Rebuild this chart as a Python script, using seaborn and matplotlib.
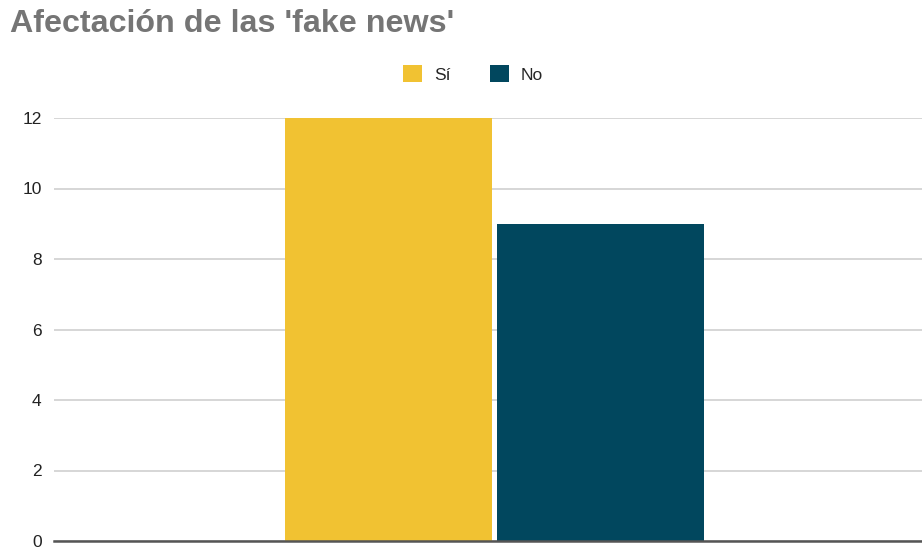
import matplotlib
matplotlib.use("Agg")
import matplotlib.pyplot as plt
import seaborn as sns
import pandas as pd

# Data
categories = [""]
series = ["Sí", "No"]
values = [12, 9]
colors = ["#F1C232", "#01475E"]
yticks = [0, 2, 4, 6, 8, 10, 12]

df = pd.DataFrame({
    "cat": categories * len(series),
    "serie": series,
    "valor": values,
})

sns.set_theme(style="white")
plt.rcParams["font.family"] = ["Liberation Sans", "DejaVu Sans"]

fig = plt.figure(figsize=(9.22, 5.47), dpi=100)
ax = fig.add_axes([54 / 922, 1 - 541 / 547, 1 - 54 / 922, (541 - 118) / 547])

sns.barplot(data=df, x="cat", y="valor", hue="serie", hue_order=series,
            palette=colors, width=0.481, gap=0.025, saturation=1,
            linewidth=0, ax=ax)

ax.set_xlim(-0.5, 0.485)
ax.set_ylim(0, 12)
ax.set_yticks(yticks)
ax.set_yticklabels([str(t) for t in yticks], fontsize=12.5, color="#222222")
ax.tick_params(axis="y", length=0, pad=9)
ax.tick_params(axis="x", length=0)
ax.set_xticklabels([])
ax.set_xlabel("")
ax.set_ylabel("")

ax.yaxis.grid(True, color="#cccccc", linewidth=1.1)
ax.set_axisbelow(True)
for side in ["top", "right", "left"]:
    ax.spines[side].set_visible(False)
ax.spines["bottom"].set_color("#555555")
ax.spines["bottom"].set_linewidth(1.8)
ax.spines["bottom"].set_zorder(5)

sns.move_legend(ax, "center", bbox_to_anchor=(473 / 922, 1 - 74 / 547),
                bbox_transform=fig.transFigure, ncol=2, frameon=False,
                title=None, fontsize=12.5, handlelength=1.1, handleheight=1.1,
                handletextpad=0.7, columnspacing=2.25)

fig.text(10 / 922, 1 - 24 / 547, "Afectación de las 'fake news'",
         fontsize=23.2, fontweight="bold", color="#757575", va="center", ha="left")

fig.savefig("out.png", dpi=100)
